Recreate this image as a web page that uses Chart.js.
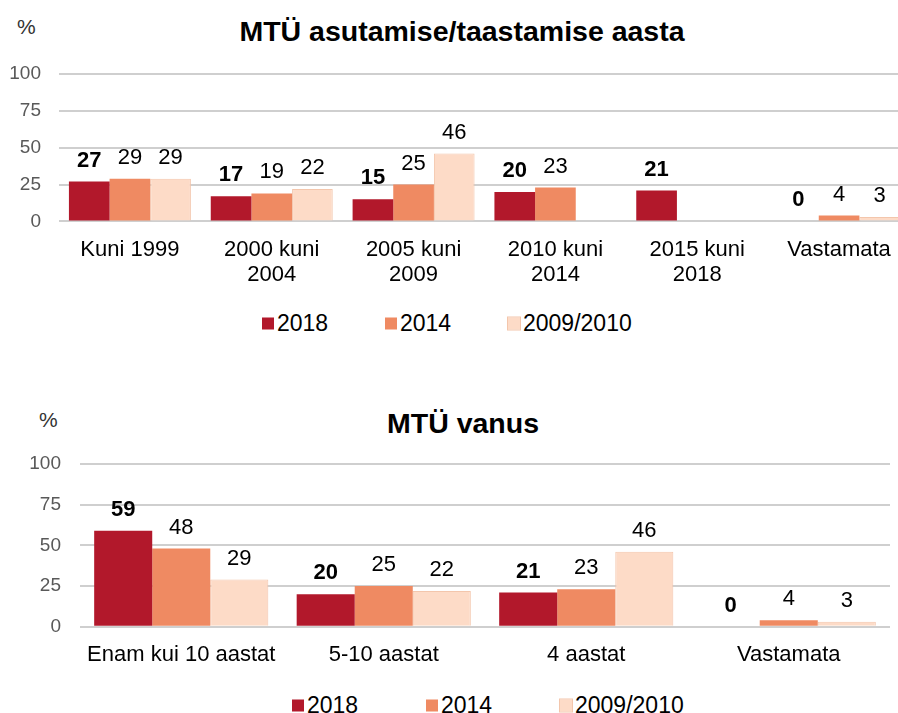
<!DOCTYPE html>
<html lang="et">
<head>
<meta charset="UTF-8">
<title>MTÜ asutamise/taastamise aasta ja vanus</title>
<script src="https://cdn.jsdelivr.net/npm/chart.js"></script>
<style>
  body { margin: 0; width: 898px; height: 713px; overflow: hidden; background: #fff; position: relative;
         font-family: 'Liberation Sans', Arial, sans-serif; }
  .box { position: absolute; left: 0; }
  .title { position: absolute; font-weight: bold; font-size: 28.5px; color: #000; transform: translate(-50%, -50%); white-space: nowrap; }
  .pct { position: absolute; font-size: 21px; color: #333; transform: translateY(-50%); }
  .legend { position: absolute; display: flex; transform: translateY(-50%); font-size: 23px; color: #000; }
  .legend span.item { display: flex; align-items: center; }
  .legend i { display: inline-block; width: 12px; height: 12px; margin-right: 3px; }
</style>
</head>
<body>
<div class="pct" style="left:17px; top:27px;">%</div>
<div class="title" style="left:462px; top:31px;">MTÜ asutamise/taastamise aasta</div>
<div class="box" style="top:0; width:910px; height:304px;"><canvas id="yearChart"></canvas></div>
<div class="legend" id="legendTop" style="left:262px; top:323px;"></div>

<div class="pct" style="left:39px; top:420px;">%</div>
<div class="title" style="left:463px; top:423px;">MTÜ vanus</div>
<div class="box" style="top:400px; width:890px; height:284px;"><canvas id="ageChart"></canvas></div>
<div class="legend" id="legendBottom" style="left:292px; top:705px;"></div>

<script>
// series
var seriesNames = ['2018', '2014', '2009/2010'];
var seriesColors = ['#B2182B', '#EF8A62', '#FDDBC7'];

// chart 1: founding year
var yearLabels = ['Kuni 1999', ['2000 kuni', '2004'], ['2005 kuni', '2009'], ['2010 kuni', '2014'], ['2015 kuni', '2018'], 'Vastamata'];
var year2018 = [27, 17, 15, 20, 21, 0];
var year2014 = [29, 19, 25, 23, null, 4];
var year2009 = [29, 22, 46, null, null, 3];

// chart 2: age
var ageLabels = ['Enam kui 10 aastat', '5-10 aastat', '4 aastat', 'Vastamata'];
var age2018 = [59, 20, 21, 0];
var age2014 = [48, 25, 23, 4];
var age2009 = [29, 22, 46, 3];

var yTicks = [0, 25, 50, 75, 100];

var fontFamily = "'Liberation Sans', Arial, sans-serif";

// value labels above bars, 2018 in bold
var valueLabels = {
    id: 'valueLabels',
    afterDatasetsDraw: function(chart) {
        var ctx = chart.ctx;
        ctx.save();
        ctx.fillStyle = '#000';
        ctx.textAlign = 'center';
        ctx.textBaseline = 'middle';
        chart.data.datasets.forEach(function(ds, i) {
            var meta = chart.getDatasetMeta(i);
            ctx.font = (i === 0 ? 'bold ' : '') + '22px ' + fontFamily;
            meta.data.forEach(function(bar, j) {
                var v = ds.data[j];
                if (v === null) return;
                ctx.fillText(v, bar.x, bar.y - 21);
            });
        });
        ctx.restore();
    }
};

function makeChart(id, labels, values, axisWidth, tickPad, padTop, catPct) {
    var ctx = document.getElementById(id).getContext('2d');
    return new Chart(ctx, {
        type: 'bar',
        data: {
            labels: labels,
            datasets: values.map(function(v, i) {
                return {
                    label: seriesNames[i],
                    data: v,
                    backgroundColor: seriesColors[i],
                    borderColor: i === 2 ? '#F3C6AC' : seriesColors[i],
                    borderWidth: i === 2 ? 1 : 0,
                    categoryPercentage: catPct,
                    barPercentage: 1.0
                };
            })
        },
        options: {
            responsive: true,
            maintainAspectRatio: false,
            animation: false,
            layout: { padding: { top: padTop, right: 0, bottom: 0, left: 0 } },
            plugins: {
                legend: { display: false },
                title: { display: false },
                tooltip: { enabled: false }
            },
            scales: {
                x: {
                    grid: { display: false, drawTicks: false },
                    border: { display: false },
                    ticks: {
                        color: '#000',
                        padding: 16,
                        maxRotation: 0,
                        autoSkip: false,
                        font: { family: fontFamily, size: 22, lineHeight: 1.15 }
                    }
                },
                y: {
                    min: 0,
                    max: 100,
                    afterBuildTicks: function(scale) {
                        scale.ticks = yTicks.map(function(t) { return { value: t }; });
                    },
                    afterFit: function(scale) { scale.width = axisWidth; },
                    grid: { color: '#CFCFCF', lineWidth: 2, drawTicks: false },
                    border: { display: false },
                    ticks: {
                        color: '#595959',
                        padding: tickPad,
                        font: { family: fontFamily, size: 19 }
                    }
                }
            }
        },
        plugins: [valueLabels]
    });
}

makeChart('yearChart', yearLabels, [year2018, year2014, year2009], 59, 18, 74, 0.86);
makeChart('ageChart', ageLabels, [age2018, age2014, age2009], 80, 19, 64, 0.86);

function buildLegend(id, itemWidth) {
    var el = document.getElementById(id);
    seriesNames.forEach(function(name, i) {
        var item = document.createElement('span');
        item.className = 'item';
        if (i < seriesNames.length - 1) item.style.width = itemWidth + 'px';
        var sw = document.createElement('i');
        sw.style.background = seriesColors[i];
        if (i === 2) sw.style.outline = '1px solid #F3C6AC';
        item.appendChild(sw);
        item.appendChild(document.createTextNode(name));
        el.appendChild(item);
    });
}
buildLegend('legendTop', 123);
buildLegend('legendBottom', 134);
</script>
</body>
</html>
